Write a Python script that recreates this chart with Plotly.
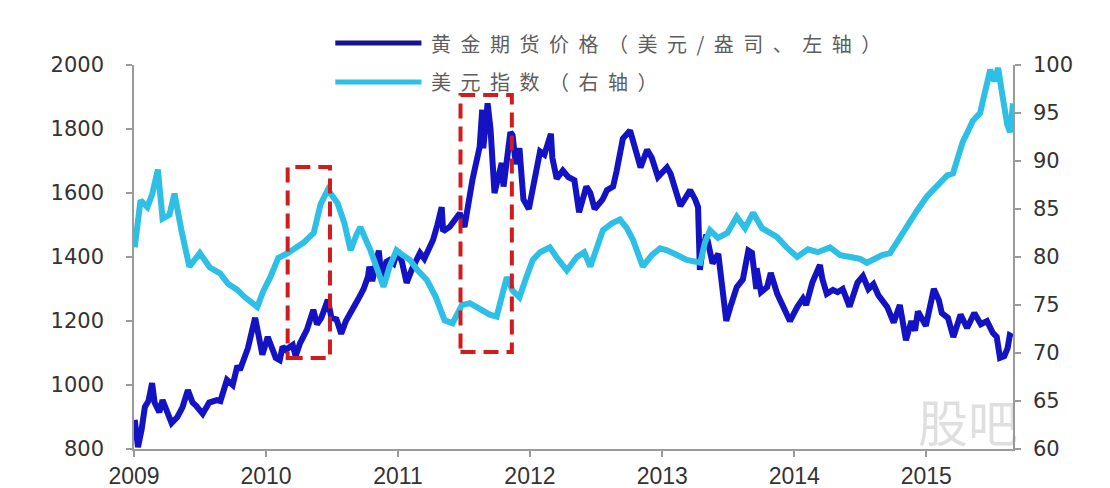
import plotly.graph_objects as go

# Gold futures price, USD/oz (left axis)
gold_dates = [
    "2009-01-03", "2009-01-12", "2009-01-22", "2009-01-31", "2009-02-10", "2009-02-20", "2009-02-27",
    "2009-03-05", "2009-03-12", "2009-03-21", "2009-04-01", "2009-04-15", "2009-05-01", "2009-05-15",
    "2009-05-30", "2009-06-12", "2009-06-22", "2009-07-02", "2009-07-10", "2009-07-28", "2009-08-18",
    "2009-08-28", "2009-09-15", "2009-10-01", "2009-10-14", "2009-10-21", "2009-11-03", "2009-11-12",
    "2009-12-02", "2009-12-15", "2009-12-22",
    "2010-01-06", "2010-01-20", "2010-01-28", "2010-02-08", "2010-02-16", "2010-02-25", "2010-03-16",
    "2010-03-24", "2010-04-05", "2010-04-24", "2010-05-12", "2010-05-22", "2010-06-03", "2010-06-21",
    "2010-07-01", "2010-07-15", "2010-07-28", "2010-08-10", "2010-08-29", "2010-09-14", "2010-09-28",
    "2010-10-10", "2010-10-14", "2010-10-22", "2010-11-09", "2010-11-16", "2010-11-30", "2010-12-09",
    "2010-12-20", "2010-12-31",
    "2011-01-12", "2011-01-25", "2011-02-08", "2011-03-03", "2011-03-15", "2011-04-08", "2011-04-20",
    "2011-05-02", "2011-05-06", "2011-05-24", "2011-06-21", "2011-07-04", "2011-07-26", "2011-08-08",
    "2011-08-15", "2011-08-22", "2011-08-25", "2011-09-06", "2011-09-14", "2011-09-25", "2011-10-04",
    "2011-10-15", "2011-10-20", "2011-11-08", "2011-11-14", "2011-11-23", "2011-12-03", "2011-12-14",
    "2011-12-29",
    "2012-01-12", "2012-01-29", "2012-02-10", "2012-02-28", "2012-03-03", "2012-03-15", "2012-04-01",
    "2012-04-16", "2012-05-03", "2012-05-16", "2012-06-05", "2012-06-16", "2012-06-28", "2012-07-20",
    "2012-08-01", "2012-08-18", "2012-08-28", "2012-09-14", "2012-10-04", "2012-10-22", "2012-11-02",
    "2012-11-20", "2012-12-03", "2012-12-20",
    "2013-01-14", "2013-01-24", "2013-02-20", "2013-03-01", "2013-03-19", "2013-04-02", "2013-04-10",
    "2013-04-15", "2013-04-22", "2013-05-03", "2013-05-20", "2013-06-05", "2013-06-20", "2013-06-27",
    "2013-07-10", "2013-07-26", "2013-08-12", "2013-08-27", "2013-09-06", "2013-09-18", "2013-09-19",
    "2013-10-01", "2013-10-18", "2013-10-28", "2013-11-15", "2013-12-06", "2013-12-20",
    "2014-01-10", "2014-01-25", "2014-02-03", "2014-02-20", "2014-03-13", "2014-03-20", "2014-04-01",
    "2014-04-18", "2014-05-01", "2014-05-15", "2014-06-03", "2014-06-13", "2014-06-25", "2014-07-10",
    "2014-07-25", "2014-08-08", "2014-08-22", "2014-09-15", "2014-10-03", "2014-10-20", "2014-11-06",
    "2014-11-21", "2014-12-01", "2014-12-09", "2014-12-31",
    "2015-01-22", "2015-02-05", "2015-02-13", "2015-03-02", "2015-03-17", "2015-04-06", "2015-04-24",
    "2015-05-14", "2015-06-01", "2015-06-18", "2015-07-04", "2015-07-15", "2015-07-24", "2015-08-05",
    "2015-08-14", "2015-08-20", "2015-08-28",
]
gold_price = [
    891, 806, 860, 931, 950, 1006, 945,
    931, 915, 953, 920, 881, 900, 930,
    984, 945, 935, 922, 910, 945, 953,
    950, 1016, 1000, 1060, 1047, 1085, 1115,
    1210, 1141, 1095,
    1150, 1110, 1085, 1078, 1120, 1110, 1125,
    1090, 1130, 1172, 1235, 1190, 1210, 1266,
    1210, 1205, 1160, 1200, 1235, 1270, 1300,
    1338, 1370, 1325, 1420, 1340, 1385, 1391,
    1380, 1420,
    1385, 1319, 1360, 1413, 1395, 1453, 1500,
    1556, 1480, 1494, 1537, 1494, 1641, 1720,
    1744, 1860, 1740, 1880, 1800, 1600, 1650,
    1694, 1620, 1790, 1780, 1690, 1740, 1580,
    1550,
    1640, 1730, 1720, 1785, 1710, 1645, 1670,
    1650, 1640, 1540, 1620, 1600, 1550, 1580,
    1609, 1620, 1670, 1770, 1795, 1725, 1680,
    1735, 1710, 1650,
    1680, 1660, 1560, 1575, 1609, 1580, 1556,
    1360, 1420, 1470, 1380, 1410, 1280, 1200,
    1250, 1306, 1330, 1420, 1413, 1300, 1365,
    1290, 1306, 1350, 1285, 1230, 1200,
    1245, 1270, 1250, 1320, 1375, 1330, 1285,
    1297, 1290, 1300, 1245, 1275, 1320, 1340,
    1300, 1315, 1280, 1244, 1195, 1250, 1140,
    1200, 1170, 1230, 1185,
    1300, 1265, 1225, 1210, 1150, 1220, 1178,
    1225, 1190, 1200, 1163, 1150, 1085, 1090,
    1115, 1155, 1150,
]

# US dollar index (right axis)
usd_dates = [
    "2009-01-03", "2009-01-19", "2009-02-07", "2009-02-20", "2009-03-08", "2009-03-21", "2009-04-09",
    "2009-04-23", "2009-05-12", "2009-06-03", "2009-07-02", "2009-07-30", "2009-08-27", "2009-09-18",
    "2009-10-13", "2009-11-04", "2009-12-08", "2009-12-25",
    "2010-01-13", "2010-02-04", "2010-03-02", "2010-03-24", "2010-04-15", "2010-05-13", "2010-06-01",
    "2010-06-21", "2010-07-02", "2010-07-18", "2010-08-06", "2010-08-23", "2010-09-08", "2010-09-19",
    "2010-10-17", "2010-11-05", "2010-11-22", "2010-12-09", "2010-12-28",
    "2011-01-14", "2011-02-03", "2011-02-25", "2011-03-22", "2011-04-16", "2011-05-10", "2011-06-01",
    "2011-06-27", "2011-07-19", "2011-08-07", "2011-08-24", "2011-09-12", "2011-10-01", "2011-10-18",
    "2011-10-29", "2011-11-14", "2011-12-03", "2011-12-23",
    "2012-01-09", "2012-01-29", "2012-02-25", "2012-03-18", "2012-04-12", "2012-05-10", "2012-05-30",
    "2012-06-16", "2012-07-04", "2012-07-21", "2012-08-15", "2012-09-06", "2012-09-25", "2012-10-12",
    "2012-11-08", "2012-12-03", "2012-12-26",
    "2013-01-14", "2013-02-11", "2013-03-10", "2013-04-16", "2013-04-29", "2013-05-13", "2013-06-04",
    "2013-06-30", "2013-07-26", "2013-08-18", "2013-09-09", "2013-10-04", "2013-10-26", "2013-11-14",
    "2013-12-11",
    "2014-01-09", "2014-02-08", "2014-03-07", "2014-04-10", "2014-05-08", "2014-06-05", "2014-07-02",
    "2014-07-21", "2014-08-13", "2014-09-01", "2014-09-23", "2014-10-15", "2014-11-08", "2014-12-06",
    "2015-01-03", "2015-02-03", "2015-02-28", "2015-03-16", "2015-03-30", "2015-04-12", "2015-04-24",
    "2015-05-10", "2015-05-30", "2015-06-13", "2015-06-27", "2015-07-08", "2015-07-19", "2015-07-30",
    "2015-08-13", "2015-08-21", "2015-08-29",
]
usd_index = [
    81.0, 85.9, 85.2, 86.5, 89.1, 84.0, 84.4,
    86.6, 82.8, 79.0, 80.4, 78.9, 78.3, 77.2,
    76.6, 75.8, 74.8, 76.5,
    77.9, 79.9, 80.4, 81.0, 81.5, 82.5, 85.5,
    87.0, 86.5, 85.6, 83.5, 80.7, 82.3, 83.1,
    80.7, 78.5, 76.9, 79.0, 80.7,
    80.2, 79.7, 78.6, 77.6, 75.8, 73.4, 73.1,
    75.0, 75.2, 74.8, 74.5, 74.0, 73.8, 76.0,
    77.9, 76.5, 75.8, 78.0,
    79.7, 80.5, 81.0, 79.8, 78.6, 80.0, 80.5,
    79.0, 81.0, 82.8, 83.5, 83.9, 83.0, 81.8,
    79.0, 80.2, 80.9,
    80.7, 80.2, 79.7, 79.4, 81.5, 82.8, 82.0,
    82.5, 84.2, 83.0, 84.6, 83.0, 82.5, 82.1,
    81.0,
    80.0, 80.8, 80.5, 81.0, 80.2, 80.0, 79.8,
    79.4, 79.8, 80.2, 80.4, 81.8, 83.1, 84.8,
    86.3, 87.5, 88.5, 88.7, 90.5, 92.0, 92.9,
    94.2, 95.0, 97.0, 99.5, 98.3, 99.7, 97.0,
    93.8, 93.0, 96.0,
]

year_ticks = ["2009-01-01", "2010-01-01", "2011-01-01", "2012-01-01",
              "2013-01-01", "2014-01-01", "2015-01-01"]
year_labels = ["2009", "2010", "2011", "2012", "2013", "2014", "2015"]

# Highlighted periods: (start, end, low, high) on the gold axis
highlight_periods = [
    ("2010-03-02", "2010-06-27", 1084, 1681),
    ("2011-06-23", "2011-11-12", 1103, 1906),
]

GOLD_NAME = "黄金期货价格（美元/盎司、左轴）"
USD_NAME = "美元指数（右轴）"
GOLD_COLOR = "#1313c4"
GOLD_KEY_COLOR = "#14148f"
USD_COLOR = "#2ebfe6"
AXIS_COLOR = "#9a9a9a"
LABEL_COLOR = "#333333"

fig = go.Figure()
fig.add_trace(go.Scatter(
    x=usd_dates, y=usd_index, name=USD_NAME, yaxis="y2", mode="lines",
    line=dict(color=USD_COLOR, width=6), showlegend=False,
))
fig.add_trace(go.Scatter(
    x=gold_dates, y=gold_price, name=GOLD_NAME, yaxis="y", mode="lines",
    line=dict(color=GOLD_COLOR, width=6), showlegend=False,
))

# Dashed red boxes around the highlighted periods
for x0, x1, y0, y1 in highlight_periods:
    fig.add_shape(type="rect", xref="x", yref="y", x0=x0, x1=x1, y0=y0, y1=y1,
                  line=dict(color="#d01c1c", width=4, dash="15px,8px"),
                  fillcolor="rgba(0,0,0,0)", layer="above")

# Hand-built legend with long line samples
legend_rows = [(GOLD_NAME, GOLD_KEY_COLOR, 1.057), (USD_NAME, USD_COLOR, 0.956)]
for name, color, ypos in legend_rows:
    fig.add_shape(type="line", xref="paper", yref="paper",
                  x0=0.229, x1=0.327, y0=ypos, y1=ypos,
                  line=dict(color=color, width=5))
    fig.add_annotation(
        xref="paper", yref="paper", x=0.336, y=ypos, xanchor="left", yanchor="middle",
        text='<span style="letter-spacing:9.5px">' + name + "</span>",
        showarrow=False,
        font=dict(family="Noto Sans CJK SC", size=20, color="#5e5e5e"),
    )

# Faint site watermark
fig.add_annotation(
    xref="paper", yref="paper", x=0.949, y=0.075, xanchor="center", yanchor="middle",
    text="股吧", showarrow=False,
    font=dict(family="Noto Sans CJK SC", size=50, color="rgba(150,150,150,0.30)"),
)

tick_font = dict(family="DejaVu Sans", size=21, color=LABEL_COLOR)

fig.update_layout(
    width=1110, height=488, autosize=False,
    margin=dict(l=134, r=97, t=65, b=39, autoexpand=False),
    paper_bgcolor="white", plot_bgcolor="white",
    font=dict(family="DejaVu Sans", color=LABEL_COLOR),
    showlegend=False,
    xaxis=dict(
        type="date", range=["2009-01-01", "2015-08-29"],
        tickmode="array", tickvals=year_ticks, ticktext=year_labels,
        ticks="outside", ticklen=6, tickwidth=1.5, tickcolor=AXIS_COLOR,
        showline=True, linecolor=AXIS_COLOR, linewidth=1.5,
        showgrid=False, zeroline=False, automargin=False,
        tickfont=dict(family="Liberation Sans Narrow, Liberation Sans", size=23, color=LABEL_COLOR),
    ),
    yaxis=dict(
        range=[800, 2000], tick0=800, dtick=200,
        ticks="outside", ticklen=6, tickwidth=1.5, tickcolor=AXIS_COLOR,
        showline=True, linecolor=AXIS_COLOR, linewidth=1.5,
        showgrid=False, zeroline=False, automargin=False,
        tickfont=tick_font, ticklabelstandoff=18,
    ),
    yaxis2=dict(
        overlaying="y", side="right",
        range=[60, 100], tick0=60, dtick=5,
        ticks="outside", ticklen=6, tickwidth=1.5, tickcolor=AXIS_COLOR,
        showline=True, linecolor=AXIS_COLOR, linewidth=1.5,
        showgrid=False, zeroline=False, automargin=False,
        tickfont=tick_font, ticklabelstandoff=8,
    ),
)

fig.write_html("out.html")
